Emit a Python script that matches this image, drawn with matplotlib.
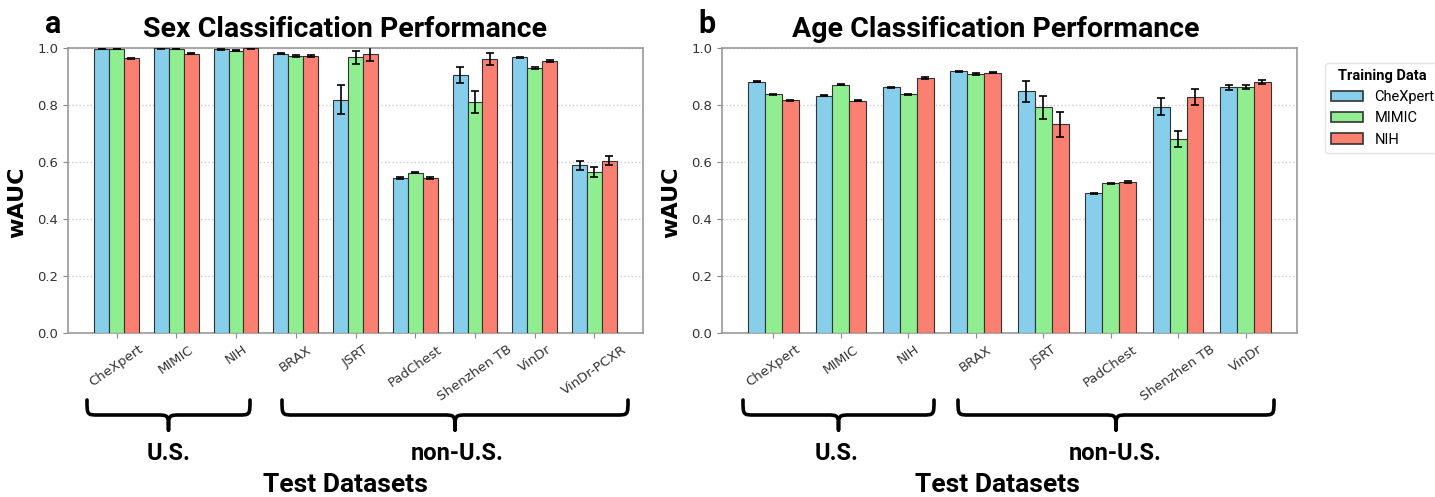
import numpy as np
import matplotlib.pyplot as plt
from matplotlib.path import Path
from matplotlib.patches import PathPatch, Patch

# ---- data ----
sex_sets = ['CheXpert', 'MIMIC', 'NIH', 'BRAX', 'JSRT', 'PadChest',
            'Shenzhen TB', 'VinDr', 'VinDr-PCXR']
sex_chexpert = [0.998, 0.999, 0.995, 0.980, 0.819, 0.543, 0.906, 0.967, 0.588]
sex_mimic = [0.997, 0.998, 0.991, 0.971, 0.967, 0.563, 0.810, 0.931, 0.565]
sex_nih = [0.964, 0.980, 0.999, 0.972, 0.979, 0.545, 0.962, 0.955, 0.605]
sex_chexpert_err = [0.001, 0.001, 0.003, 0.002, 0.051, 0.003, 0.029, 0.003, 0.015]
sex_mimic_err = [0.002, 0.001, 0.003, 0.004, 0.023, 0.003, 0.038, 0.004, 0.017]
sex_nih_err = [0.002, 0.002, 0.001, 0.003, 0.023, 0.003, 0.020, 0.004, 0.015]

age_sets = ['CheXpert', 'MIMIC', 'NIH', 'BRAX', 'JSRT', 'PadChest',
            'Shenzhen TB', 'VinDr']
age_chexpert = [0.881, 0.833, 0.862, 0.918, 0.848, 0.490, 0.794, 0.862]
age_mimic = [0.838, 0.871, 0.837, 0.909, 0.792, 0.525, 0.682, 0.862]
age_nih = [0.817, 0.815, 0.894, 0.914, 0.732, 0.530, 0.829, 0.881]
age_chexpert_err = [0.002, 0.002, 0.002, 0.002, 0.037, 0.002, 0.029, 0.008]
age_mimic_err = [0.002, 0.002, 0.002, 0.002, 0.041, 0.002, 0.028, 0.007]
age_nih_err = [0.002, 0.002, 0.003, 0.002, 0.044, 0.002, 0.028, 0.006]

train_names = ['CheXpert', 'MIMIC', 'NIH']
colors = ['#87CEEB', '#90EE90', '#FA8072']

W, H = 1435, 497
narrow = ['Roboto', 'DejaVu Sans']

fig = plt.figure(figsize=(W / 100, H / 100), dpi=100)


def px_axes(x0, x1, y0, y1):
    return fig.add_axes([x0 / W, 1 - y1 / H, (x1 - x0) / W, (y1 - y0) / H])


def draw_panel(ax, names, series, errs):
    x = np.arange(len(names))
    width = 0.25
    for i, (vals, err) in enumerate(zip(series, errs)):
        ax.bar(x + (i - 1) * width, vals, width, yerr=err, color=colors[i],
               edgecolor='#333333', linewidth=0.8, capsize=3,
               error_kw=dict(elinewidth=1.2, capthick=1.2, ecolor='black'),
               zorder=3)
    ax.set_ylim(0, 1.0)
    ax.set_yticks(np.arange(0, 1.01, 0.2))
    ax.set_xticks(x)
    ax.set_xticklabels(names, rotation=35, ha='center', fontsize=9.5,
                       color='#333333')
    ax.tick_params(axis='y', labelsize=9.5, labelcolor='#333333',
                   color='#888888')
    ax.tick_params(axis='x', color='#888888')
    ax.grid(axis='y', linestyle=':', color='#cccccc', linewidth=1, zorder=0)
    for s in ax.spines.values():
        s.set_color('#999999')
        s.set_linewidth(1.2)


def brace(x0, x1, ytop, ymid, ybot):
    xc = (x0 + x1) / 2
    r = 12
    verts = [(x0, ytop), (x0, ymid), (x0, ymid), (x0 + r, ymid),
             (xc - r, ymid),
             (xc, ymid), (xc, ymid), (xc, ybot),
             (xc, ymid), (xc, ymid), (xc + r, ymid),
             (x1 - r, ymid),
             (x1, ymid), (x1, ymid), (x1, ytop)]
    codes = [Path.MOVETO, Path.CURVE4, Path.CURVE4, Path.CURVE4,
             Path.LINETO,
             Path.CURVE4, Path.CURVE4, Path.CURVE4,
             Path.CURVE4, Path.CURVE4, Path.CURVE4,
             Path.LINETO,
             Path.CURVE4, Path.CURVE4, Path.CURVE4]
    verts = [(vx / W, 1 - vy / H) for vx, vy in verts]
    fig.add_artist(PathPatch(Path(verts, codes), transform=fig.transFigure,
                             fill=False, edgecolor='black', linewidth=2.6,
                             capstyle='round', joinstyle='round'))


ax1 = px_axes(68, 643, 48, 333)
draw_panel(ax1, sex_sets, [sex_chexpert, sex_mimic, sex_nih],
           [sex_chexpert_err, sex_mimic_err, sex_nih_err])
ax2 = px_axes(722, 1297, 48, 333)
draw_panel(ax2, age_sets, [age_chexpert, age_mimic, age_nih],
           [age_chexpert_err, age_mimic_err, age_nih_err])

# titles, panel letters
fig.text(345 / W, 1 - 37 / H, 'Sex Classification Performance', ha='center',
         va='baseline', fontsize=20.5, fontweight='bold', family=narrow)
fig.text(996 / W, 1 - 37 / H, 'Age Classification Performance', ha='center',
         va='baseline', fontsize=20.5, fontweight='bold', family=narrow)
fig.text(45 / W, 1 - 33 / H, 'a', ha='left', va='baseline', fontsize=22,
         fontweight='bold', family=narrow)
fig.text(698 / W, 1 - 33 / H, 'b', ha='left', va='baseline', fontsize=22,
         fontweight='bold', family=narrow)

# y labels
for xc in (17, 671):
    fig.text(xc / W, 1 - 202 / H, 'wAUC', rotation=90, ha='center',
             va='center', fontsize=16, fontweight='bold')

# group braces and labels
brace(87, 250, 400, 415, 430)
brace(282, 628, 400, 415, 430)
brace(743, 934, 400, 415, 430)
brace(958, 1274, 400, 415, 430)
for xc, lab in [(169, 'U.S.'), (457, 'non-U.S.'), (837, 'U.S.'),
                (1115, 'non-U.S.')]:
    fig.text(xc / W, 1 - 453 / H, lab, ha='center', va='center',
             fontsize=17, fontweight='bold', family=narrow)
for xc in (345, 997):
    fig.text(xc / W, 1 - 485 / H, 'Test Datasets', ha='center', va='center',
             fontsize=19, fontweight='bold', family=narrow)

# legend
handles = [Patch(facecolor=c, edgecolor='#333333', linewidth=1.2)
           for c in colors]
leg = fig.legend(handles, train_names, title='Training Data',
                 loc='upper left', bbox_to_anchor=(1325 / W, 1 - 63 / H),
                 prop={'family': narrow, 'size': 10.5},
                 title_fontproperties={'family': narrow, 'weight': 'bold',
                                       'size': 10.5},
                 frameon=True, edgecolor='#dddddd', borderaxespad=0,
                 handlelength=2.2)

fig.savefig('out.png', dpi=100)
